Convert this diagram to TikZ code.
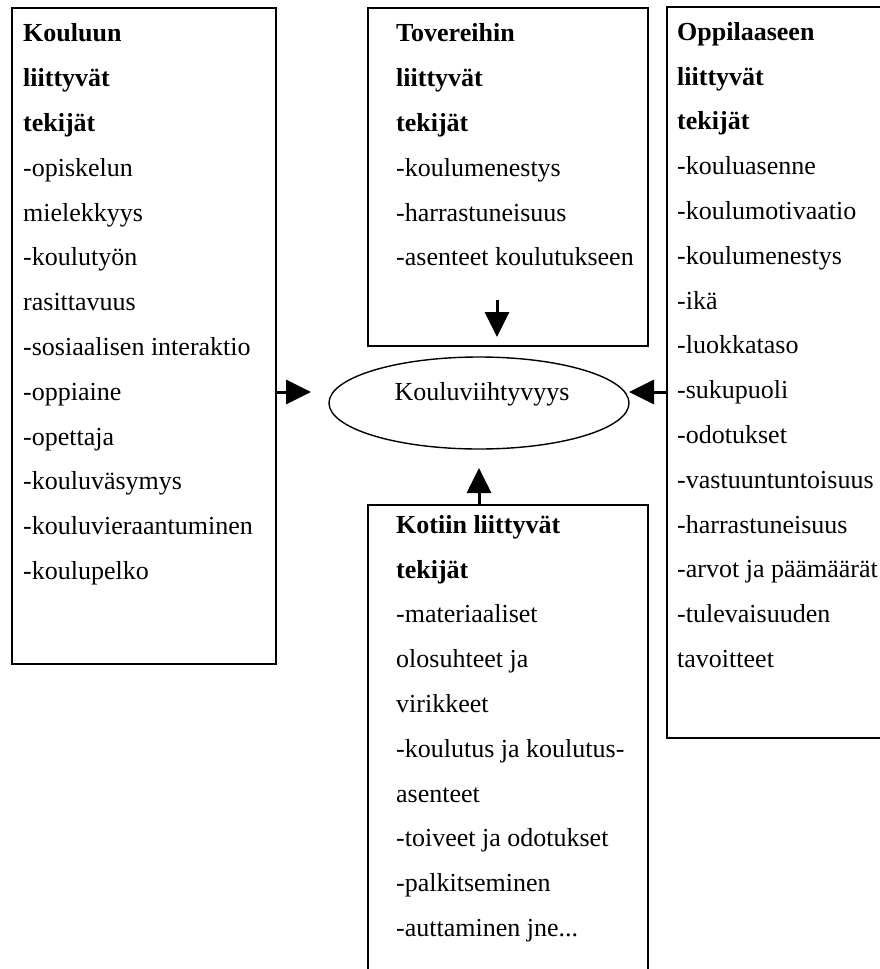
\documentclass[tikz,border=0pt]{standalone}
\usepackage{fontspec}
\setmainfont{Liberation Serif}
\usetikzlibrary{shapes.geometric,arrows.meta}
\begin{document}
\begin{tikzpicture}[x=1pt,y=-1pt,
  boxstyle/.style={draw,line width=1.6pt,rectangle,anchor=north west,inner sep=0pt},
  txtstyle/.style={anchor=north west,inner sep=0pt,align=left,font=\fontsize{26pt}{44.8pt}\selectfont},
  arr/.style={line width=3pt,-{Triangle[length=25pt,width=24pt]}}]
\useasboundingbox (0,0) rectangle (880,969);
\fill[white] (0,0) rectangle (880,969);
\clip (0,0) rectangle (880,969);
% boxes
\node[boxstyle,minimum width=264pt,minimum height=656pt] (lbox) at (11,7) {};
\node[boxstyle,minimum width=280pt,minimum height=338pt] (tbox) at (367,7) {};
\node[boxstyle,minimum width=250pt,minimum height=731pt] (rbox) at (666,6) {};
\node[boxstyle,minimum width=280pt,minimum height=500pt] (bbox) at (367,504) {};
% texts
\node[txtstyle] (ltxt) at (23,21.7) {\rule{0pt}{20pt}\textbf{Kouluun}\\\textbf{liittyvät}\\\textbf{tekijät}\\-opiskelun\\mielekkyys\\-koulutyön\\rasittavuus\\-sosiaalisen interaktio\\-oppiaine\\-opettaja\\-kouluväsymys\\-kouluvieraantuminen\\-koulupelko};
\node[txtstyle] (ttxt) at (396,21.7) {\rule{0pt}{20pt}\textbf{Tovereihin}\\\textbf{liittyvät}\\\textbf{tekijät}\\-koulumenestys\\-harrastuneisuus\\-asenteet koulutukseen};
\node[txtstyle] (rtxt) at (677,20) {\rule{0pt}{20pt}\textbf{Oppilaaseen}\\\textbf{liittyvät}\\\textbf{tekijät}\\-kouluasenne\\-koulumotivaatio\\-koulumenestys\\-ikä\\-luokkataso\\-sukupuoli\\-odotukset\\-vastuuntuntoisuus\\-harrastuneisuus\\-arvot ja päämäärät\\-tulevaisuuden\\tavoitteet};
\node[txtstyle] (btxt) at (396,513) {\rule{0pt}{20pt}\textbf{Kotiin liittyvät}\\\textbf{tekijät}\\-materiaaliset\\olosuhteet ja\\virikkeet\\-koulutus ja koulutus-\\asenteet\\-toiveet ja odotukset\\-palkitseminen\\-auttaminen jne...};
% ellipse
\node[ellipse,draw,line width=1.4pt,minimum width=300pt,minimum height=92pt,inner sep=0pt] (ell) at (479,403) {};
\node[anchor=base,inner sep=0pt,font=\fontsize{26pt}{30pt}\selectfont] (elltxt) at (482,400) {Kouluviihtyvyys};
% arrows
\coordinate (lt) at (311,392);
\coordinate (rt) at (629,392);
\coordinate (ts) at (497,300);
\coordinate (tt) at (497,337);
\coordinate (bt) at (479,468);
\draw[arr] (lbox.east |- lt) -- (lt);
\draw[arr] (rbox.west |- rt) -- (rt);
\draw[arr] (ts) -- (tt);
\draw[arr] (bbox.north -| bt) -- (bt);
\end{tikzpicture}
\end{document}
